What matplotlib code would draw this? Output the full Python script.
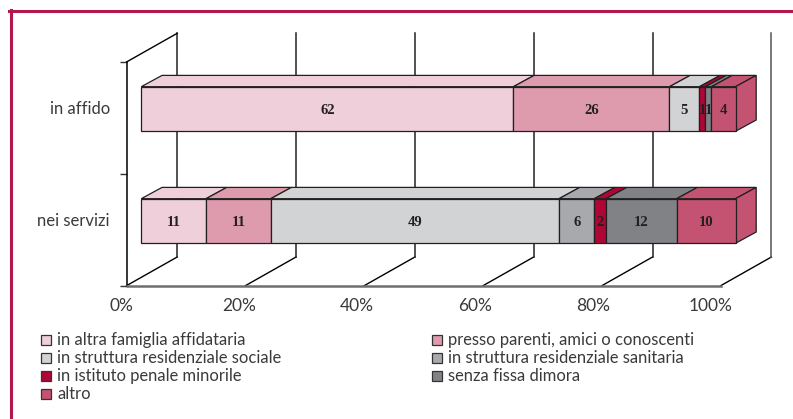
import matplotlib
matplotlib.use("Agg")
import matplotlib.pyplot as plt
from matplotlib.patches import Polygon, Rectangle
from matplotlib.transforms import ScaledTranslation

W, H = 793, 419
SANS = "Lato"

categories = ["nei servizi", "in affido"]
series_names = ["in altra famiglia affidataria", "presso parenti, amici o conoscenti",
                "in struttura residenziale sociale", "in struttura residenziale sanitaria",
                "in istituto penale minorile", "senza fissa dimora", "altro"]
nei_servizi = [11, 11, 49, 6, 2, 12, 10]
in_affido = [62, 26, 5, 0, 1, 1, 4]
colors = ["#EFCFD9", "#DE9BAE", "#D1D3D4", "#A7A9AC", "#AF0635", "#808285", "#C45271"]
xticks = [0, 20, 40, 60, 80, 100]

fig = plt.figure(figsize=(W / 100, H / 100), dpi=100, facecolor="white")
L, R, T, B = 126.5, 720.7, 62.0, 285.7
ax = fig.add_axes([L / W, 1 - B / H, (R - L) / W, (B - T) / H], facecolor="none")
ax.set_xlim(0, 100)
ax.set_ylim(0, 2)
PX = 100 / (R - L)
PY = 2 / (B - T)

DX_WALL, DY_WALL = 50.7 * PX, 28.7 * PY
DX_BAR, DY_BAR = 20.7 * PX, 11.3 * PY
X0_BAR = 14.8 * PX
BAR_H = 44.6 * PY
LINE = "#231F20"

# back wall and floor lines
for x in xticks:
    ax.plot([x, x + DX_WALL], [0, DY_WALL], color="black", lw=1.0, clip_on=False, zorder=1)
    ax.plot([x + DX_WALL] * 2, [DY_WALL, 2 + DY_WALL], color="#222222" if x < 100 else "#555555",
            lw=1.1, clip_on=False, zorder=1)
ax.plot([0, DX_WALL], [2, 2 + DY_WALL], color="black", lw=1.0, clip_on=False, zorder=1)


def draw_bar(values, yc):
    total = sum(values)
    y0, y1 = yc - BAR_H / 2, yc + BAR_H / 2
    cum = 0
    visible = [i for i in range(len(values)) if values[i] > 0]
    for n, i in enumerate(visible):
        v = values[i]
        a = X0_BAR + cum / total * 100
        b = X0_BAR + (cum + v) / total * 100
        c = colors[i]
        ax.add_patch(Polygon([(a, y1), (a + DX_BAR, y1 + DY_BAR), (b + DX_BAR, y1 + DY_BAR), (b, y1)],
                             fc=c, ec=LINE, lw=0.9, clip_on=False, zorder=3, joinstyle="miter"))
        ax.add_patch(Rectangle((a, y0), b - a, y1 - y0, fc=c, ec=LINE, lw=0.9, clip_on=False, zorder=4))
        if n == len(visible) - 1:
            ax.add_patch(Polygon([(b, y0), (b + DX_BAR, y0 + DY_BAR), (b + DX_BAR, y1 + DY_BAR), (b, y1)],
                                 fc=c, ec=LINE, lw=0.9, clip_on=False, zorder=3))
        ax.text((a + b) / 2, yc - 1.5 * PY, str(v), ha="center", va="center", fontsize=10.5, fontweight="bold",
                family="Liberation Serif", color="#231F20", zorder=6, clip_on=False)
        cum += v


y_centers = [(B - 221.0) * PY, (B - 109.0) * PY]
draw_bar(nei_servizi, y_centers[0])
draw_bar(in_affido, y_centers[1])

for s in ["top", "right"]:
    ax.spines[s].set_visible(False)
ax.spines["left"].set_color("black")
ax.spines["left"].set_linewidth(1.1)
ax.spines["bottom"].set_color("#6D6E71")
ax.spines["bottom"].set_linewidth(1.8)
ax.set_xticks(xticks)
ax.set_xticklabels([f"{x}%" for x in xticks], family=SANS, fontsize=12.5, color="#3A3A3A")
ax.tick_params(axis="x", length=0, pad=9)
for x, lab in zip(xticks, ax.get_xticklabels()):
    lab.set_transform(lab.get_transform() + ScaledTranslation((-5 - 0.05 * x) / 100, 0, fig.dpi_scale_trans))
ax.set_yticks([0, 1, 2])
ax.set_yticklabels([])
ax.tick_params(axis="y", length=5, width=1, color="#333333")
for yc, name in zip(y_centers, categories):
    ax.text(-2.8, yc, name, ha="right", va="center", family=SANS, fontsize=12,
            color="#3A3A3A", clip_on=False)

# legend
leg_pos = [(41, 340), (432, 340), (41, 358), (432, 358), (41, 376), (432, 376), (41, 394)]
for (px, py), name, c in zip(leg_pos, series_names, colors):
    fig.patches.append(Rectangle((px / W, 1 - (py + 5) / H), 10 / W, 10 / H, transform=fig.transFigure,
                                 fc=c, ec="#333333", lw=0.9))
    fig.text((px + 16) / W, 1 - py / H, name, ha="left", va="center", family=SANS, fontsize=11.9, color="#3A3A3A")

# red frame
RED = "#B5174A"
fig.add_artist(plt.Line2D([10.5 / W, 10.5 / W], [0, 1 - 10 / H], color=RED, lw=2.2))
fig.add_artist(plt.Line2D([9.4 / W, 1], [1 - 11.5 / H, 1 - 11.5 / H], color=RED, lw=2.2))

fig.savefig("out.png", dpi=100)
